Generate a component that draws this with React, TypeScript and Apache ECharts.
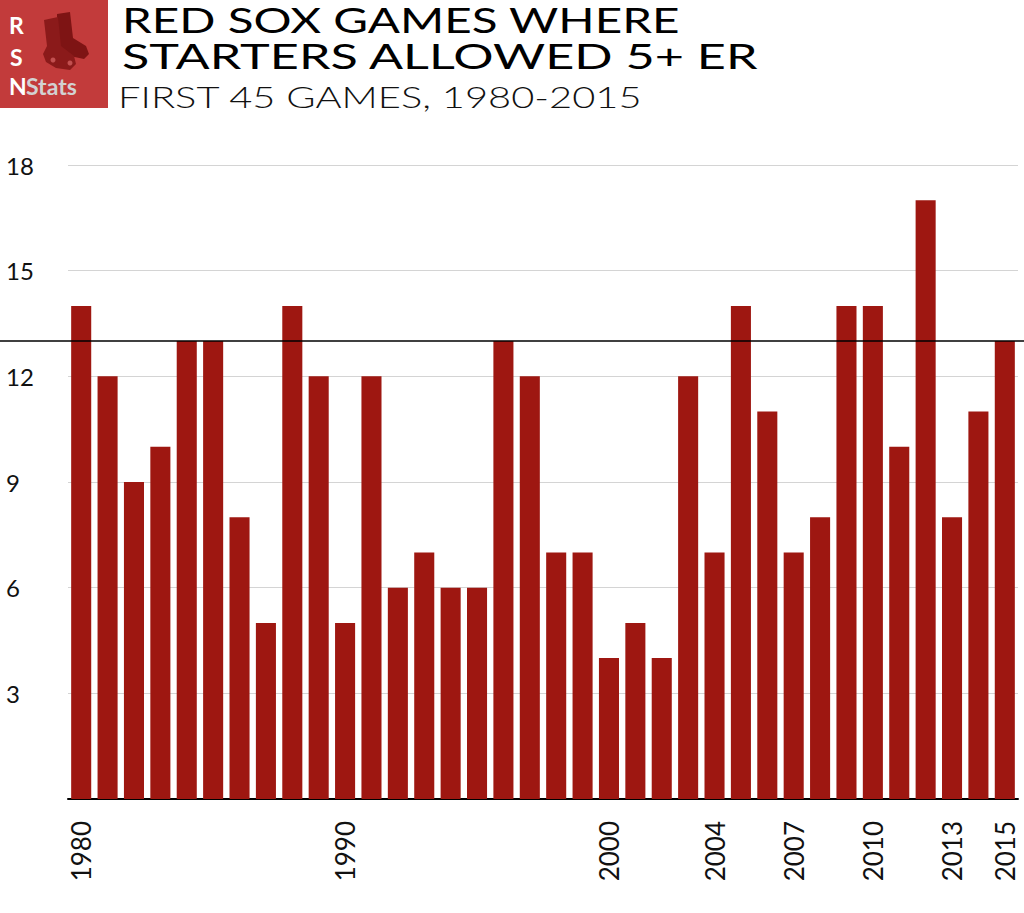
import React, { useEffect, useRef } from "react";
import * as echarts from "echarts";

const years: string[] = [
  "1980","1981","1982","1983","1984","1985","1986","1987","1988","1989",
  "1990","1991","1992","1993","1994","1995","1996","1997","1998","1999",
  "2000","2001","2002","2003","2004","2005","2006","2007","2008","2009",
  "2010","2011","2012","2013","2014","2015",
];
const games: number[] = [
  14, 12, 9, 10, 13, 13, 8, 5, 14, 12,
  5, 12, 6, 7, 6, 6, 13, 12, 7, 7,
  4, 5, 4, 12, 7, 14, 11, 7, 8, 14,
  14, 10, 17, 8, 11, 13,
];
const shownYears: string[] = ["1980", "1990", "2000", "2004", "2007", "2010", "2013", "2015"];
const referenceValue = 13;
const yTicks = { min: 0, max: 18, interval: 3 };
const titleLines: string[] = ["RED SOX GAMES WHERE", "STARTERS ALLOWED 5+ ER"];
const subtitle = "FIRST 45 GAMES, 1980-2015";

export default function App() {
  const ref = useRef<HTMLDivElement>(null);
  useEffect(() => {
    if (!ref.current) return;
    const chart = echarts.init(ref.current, undefined, { renderer: "svg" });
    const font = "Lato, 'Noto Sans', sans-serif";
    chart.setOption({
      animation: false,
      backgroundColor: "#ffffff",
      grid: { left: 68, right: 6, top: 165, bottom: 114, containLabel: false },
      xAxis: {
        type: "category",
        data: years,
        axisLine: { show: true, lineStyle: { color: "#000", width: 2 } },
        axisTick: { show: false },
        axisLabel: {
          interval: 0,
          rotate: 90,
          margin: 22,
          color: "#111",
          fontFamily: font,
          fontSize: 26,
          formatter: (v: string) => (shownYears.includes(v) ? v : ""),
        },
      },
      yAxis: {
        type: "value",
        min: yTicks.min,
        max: yTicks.max,
        interval: yTicks.interval,
        axisLine: { show: false },
        axisTick: { show: false },
        splitLine: { lineStyle: { color: "#d4d4d4", width: 1 } },
        axisLabel: {
          align: "left",
          margin: 62,
          color: "#111",
          fontFamily: font,
          fontSize: 24,
          formatter: (v: number) => (v === 0 ? "" : String(v)),
        },
      },
      series: [
        {
          type: "bar",
          data: games,
          barCategoryGap: "24%",
          itemStyle: { color: "#9e1711" },
        },
      ],
    });
    const y13 = chart.convertToPixel({ yAxisIndex: 0 }, referenceValue) as number;
    chart.setOption({
      graphic: [
        {
          type: "line",
          shape: { x1: 0, y1: y13, x2: 1024, y2: y13 },
          style: { stroke: "#000", lineWidth: 1.5 },
          z: 100,
        },
        { type: "rect", shape: { x: 0, y: 0, width: 108, height: 108 }, style: { fill: "#c23b3b" } },
        {
          type: "polygon",
          shape: { points: [[57, 14], [70, 12], [73, 38], [86, 46], [89, 54], [84, 59], [70, 56], [60, 50], [57, 42]] },
          style: { fill: "#7e1414" },
        },
        {
          type: "polygon",
          shape: { points: [[44, 20], [58, 17], [61, 46], [74, 56], [76, 64], [70, 70], [56, 68], [46, 62], [43, 54], [47, 46]] },
          style: { fill: "#8b1a1a" },
        },
        { type: "circle", shape: { cx: 53, cy: 60, r: 2.5 }, style: { fill: "#c25050" } },
        { type: "circle", shape: { cx: 70, cy: 63, r: 2.5 }, style: { fill: "#c25050" } },
        { type: "text", x: 9, y: 13, style: { text: "R", fill: "#fff", font: `bold 23px ${font}` } },
        { type: "text", x: 10, y: 45, style: { text: "S", fill: "#fff", font: `bold 23px ${font}` } },
        { type: "text", x: 9, y: 74, style: { text: "N", fill: "#fff", font: `bold 23px ${font}` } },
        { type: "text", x: 26, y: 74, style: { text: "Stats", fill: "#d2d2d2", font: `bold 23px ${font}` } },
        {
          type: "text",
          x: 122,
          y: 2,
          scaleX: 1.36,
          style: { text: titleLines[0], fill: "#000", font: `35px ${font}` },
        },
        {
          type: "text",
          x: 122,
          y: 38,
          scaleX: 1.44,
          style: { text: titleLines[1], fill: "#000", font: `35px ${font}` },
        },
        {
          type: "text",
          x: 118,
          y: 82,
          scaleX: 1.33,
          style: { text: subtitle, fill: "#111", font: `300 30px ${font}` },
        },
      ],
    });
    return () => chart.dispose();
  }, []);
  return <div ref={ref} style={{ width: 1024, height: 913, position: "absolute", left: 0, top: 0 }} />;
}
